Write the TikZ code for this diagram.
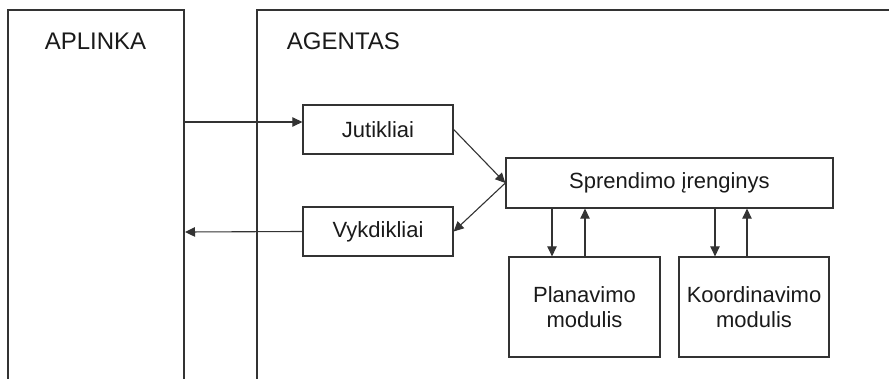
\documentclass[tikz,border=0pt]{standalone}
\usepackage{fontspec}
\setmainfont{Liberation Sans}
\usetikzlibrary{arrows.meta}
\definecolor{ink}{HTML}{333333}
\definecolor{txt}{HTML}{1A1A1A}
\begin{document}
\begin{tikzpicture}[x=1pt,y=-1pt,
  line width=1.3pt, draw=ink,
  every node/.style={font=\fontsize{22}{25}\selectfont, text=txt},
  title/.style={font=\fontsize{24}{28}\selectfont},
  block/.style={draw=ink, line width=1.3pt, rectangle, inner sep=0pt, align=center},
  arr/.style={draw=ink, line width=1.1pt, -{Triangle[length=10pt,width=9.5pt]}}]
  \useasboundingbox (0,0) rectangle (889,379);

  % environment and agent frames (open at the bottom)
  \draw (8,379) -- (8,10) -- (184,10) -- (184,379);
  \draw (257,379) -- (257,10) -- (889,10);
  \node[title] (env) at (95.5,41) {APLINKA};
  \node[title, anchor=west] (agent) at (283,41) {AGENTAS};
  \coordinate (envin)  at (184,122);
  \coordinate (envout) at (185,232);

  % agent components
  \node[block, minimum width=150pt, minimum height=49pt] (jut) at (378,129.5) {Jutikliai};
  \node[block, minimum width=150pt, minimum height=49pt] (vyk) at (378,231.5) {Vykdikliai};
  \node[block, minimum width=327pt, minimum height=50pt] (spr) at (669.5,183) {Sprendimo įrenginys};
  \node[block, minimum width=151pt, minimum height=100pt] (plan) at (584.5,307) {Planavimo\\modulis};
  \node[block, minimum width=150pt, minimum height=100pt] (koord) at (754,307) {Koordinavimo\\modulis};

  % perception and action flow
  \draw[arr] (envin) -- (envin -| jut.west);
  \draw[arr] (vyk.west) -- (envout);
  \draw[arr] (jut.east) -- (spr.west);
  \draw[arr] (spr.west) -- (vyk.east);

  % links between decision unit and modules
  \draw[arr] ([xshift=-32.5pt]plan.north |- spr.south) -- ([xshift=-32.5pt]plan.north);
  \draw[arr] ([xshift=0.5pt]plan.north) -- ([xshift=0.5pt]plan.north |- spr.south);
  \draw[arr] ([xshift=-39pt]koord.north |- spr.south) -- ([xshift=-39pt]koord.north);
  \draw[arr] ([xshift=-7pt]koord.north) -- ([xshift=-7pt]koord.north |- spr.south);
\end{tikzpicture}
\end{document}
